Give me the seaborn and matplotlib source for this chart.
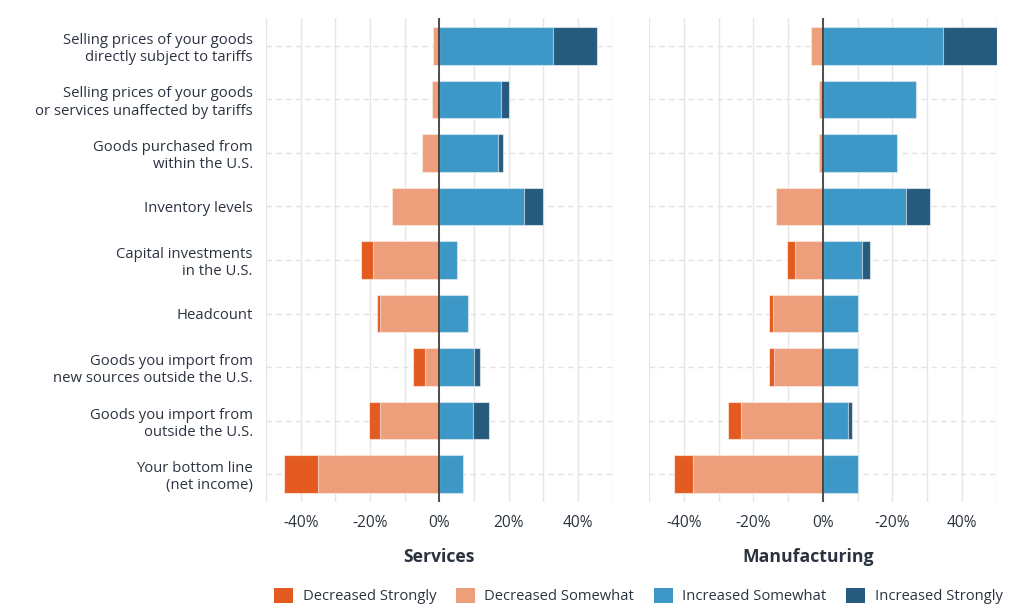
import matplotlib
matplotlib.use("Agg")
import matplotlib.pyplot as plt
import seaborn as sns
import pandas as pd
from matplotlib.patches import Patch

categories = [
    "Selling prices of your goods\ndirectly subject to tariffs",
    "Selling prices of your goods\nor services unaffected by tariffs",
    "Goods purchased from\nwithin the U.S.",
    "Inventory levels",
    "Capital investments\nin the U.S.",
    "Headcount",
    "Goods you import from\nnew sources outside the U.S.",
    "Goods you import from\noutside the U.S.",
    "Your bottom line\n(net income)",
]

# Services (percent of firms)
svc_dec_strongly = [0.0, 0.0, 0.0, 0.0, 3.7, 0.7, 3.4, 3.1, 9.8]
svc_dec_somewhat = [1.7, 2.1, 5.0, 13.6, 19.0, 17.2, 4.1, 17.2, 35.0]
svc_inc_somewhat = [32.8, 17.7, 16.8, 24.4, 5.0, 8.4, 10.0, 9.8, 6.8]
svc_inc_strongly = [12.7, 2.3, 1.6, 5.4, 0.0, 0.0, 1.6, 4.5, 0.0]

# Manufacturing (percent of firms)
mfg_dec_strongly = [0.0, 0.0, 0.0, 0.0, 2.3, 1.1, 1.5, 3.7, 5.5]
mfg_dec_somewhat = [3.5, 1.2, 1.2, 13.6, 7.9, 14.5, 14.1, 23.5, 37.5]
mfg_inc_somewhat = [34.6, 26.8, 21.4, 23.9, 11.2, 10.0, 10.0, 7.1, 10.0]
mfg_inc_strongly = [15.4, 0.0, 0.0, 6.8, 2.3, 0.0, 0.0, 1.2, 0.0]

panel_titles = ["Services", "Manufacturing"]
series_names = ["Decreased Strongly", "Decreased Somewhat", "Increased Somewhat", "Increased Strongly"]
tick_values = [-40, -20, 0, 20, 40]
left_tick_labels = ["-40%", "-20%", "0%", "20%", "40%"]
right_tick_labels = ["-40%", "-20%", "0%", "-20%", "40%"]

colors = ["#e35b20", "#ed9e7a", "#3e98c7", "#265b7d"]
text_color = "#2b3340"

sns.set_theme(style="white")
plt.rcParams["font.family"] = ["Open Sans", "DejaVu Sans"]
plt.rcParams["text.color"] = text_color
plt.rcParams["xtick.color"] = text_color
plt.rcParams["ytick.color"] = text_color

fig = plt.figure(figsize=(10.24, 6.10), dpi=100)
ax1 = fig.add_axes([0.2598, 0.177, 0.3385, 0.7935])
ax2 = fig.add_axes([0.634, 0.177, 0.3393, 0.7935])


def draw_panel(ax, ds, dsw, isw, ist, labels, show_y):
    df = pd.DataFrame({
        "cat": categories,
        "dec_total": [-(a + b) for a, b in zip(ds, dsw)],
        "dec_some": [-b for b in dsw],
        "inc_total": [a + b for a, b in zip(isw, ist)],
        "inc_some": isw,
    })
    # background grid
    for v in range(-50, 51, 10):
        ax.axvline(v, color="#e6e6e6", lw=1.0, zorder=0)
    for i in range(len(categories)):
        ax.axhline(i, color="#e3e3e3", lw=1.0, ls=(0, (4, 3)), zorder=0)
    kw = dict(data=df, y="cat", orient="h", width=0.7, ax=ax,
              edgecolor=(1, 1, 1, 0.55), linewidth=0.8, zorder=2)
    sns.barplot(x="dec_total", color=colors[0], saturation=1, **kw)
    sns.barplot(x="dec_some", color=colors[1], saturation=1, **kw)
    sns.barplot(x="inc_total", color=colors[3], saturation=1, **kw)
    sns.barplot(x="inc_some", color=colors[2], saturation=1, **kw)
    for p in ax.patches:
        p.set_zorder(2)
    ax.axvline(0, color="#222222", lw=1.1, zorder=3)
    ax.set_xlim(-50, 50)
    ax.set_ylim(8.52, -0.52)
    ax.set_xticks(tick_values)
    ax.set_xticklabels(labels, fontsize=11.2)
    ax.tick_params(axis="x", length=0, pad=9.5)
    ax.set_xlabel("")
    ax.set_ylabel("")
    if show_y:
        ax.tick_params(axis="y", length=0, pad=9.5, labelsize=10.7)
        for t in ax.get_yticklabels():
            t.set_horizontalalignment("right")
            t.set_multialignment("right")
            t.set_linespacing(1.2)
    else:
        ax.set_yticklabels([])
        ax.tick_params(axis="y", length=0)
    for s in ax.spines.values():
        s.set_visible(False)


draw_panel(ax1, svc_dec_strongly, svc_dec_somewhat, svc_inc_somewhat, svc_inc_strongly, left_tick_labels, True)
draw_panel(ax2, mfg_dec_strongly, mfg_dec_somewhat, mfg_inc_somewhat, mfg_inc_strongly, right_tick_labels, False)

fig.text(439 / 1024, 1 - 557 / 610, panel_titles[0], ha="center", va="center",
         fontsize=12.7, fontweight="bold", color=text_color)
fig.text(808 / 1024, 1 - 557 / 610, panel_titles[1], ha="center", va="center",
         fontsize=12.7, fontweight="bold", color=text_color)

handles = [Patch(facecolor=c, edgecolor="none") for c in colors]
fig.legend(handles, series_names, loc="center", bbox_to_anchor=(638.5 / 1024, 1 - 596 / 610),
           ncol=4, frameon=False, fontsize=10.6, handlelength=1.27, handleheight=1.16,
           columnspacing=1.35, handletextpad=0.65)

fig.savefig("out.png", dpi=100)
